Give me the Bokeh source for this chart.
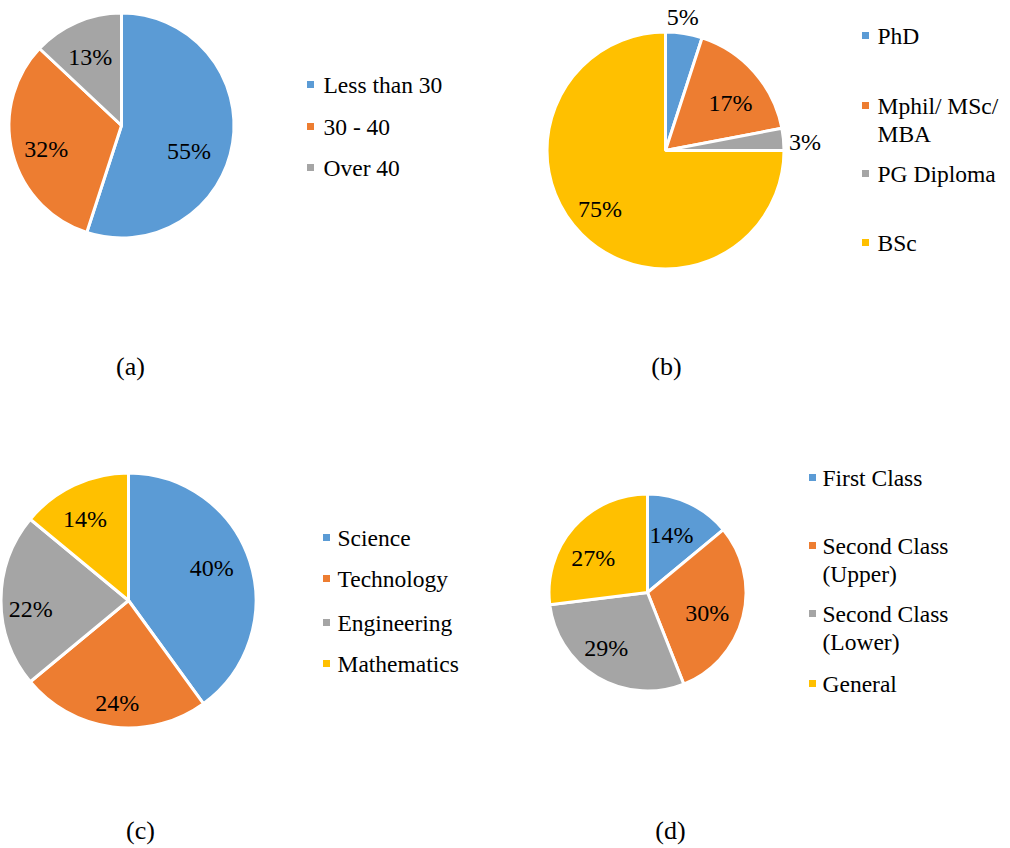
import numpy as np
from bokeh.plotting import figure
from bokeh.models import Range1d, ColumnDataSource
from bokeh.core.properties import value
from bokeh.embed import file_html
from bokeh.resources import INLINE

# ---------------- data ----------------
age_groups = ["Less than 30", "30 - 40", "Over 40"]
age_pct = [55, 32, 13]

qualifications = ["PhD", "Mphil/ MSc/\nMBA", "PG Diploma", "BSc"]
qual_pct = [5, 17, 3, 75]

fields = ["Science", "Technology", "Engineering", "Mathematics"]
field_pct = [40, 24, 22, 14]

degree_classes = ["First Class", "Second Class\n(Upper)", "Second Class\n(Lower)", "General"]
class_pct = [14, 30, 29, 27]

captions = ["(a)", "(b)", "(c)", "(d)"]

# ---------------- styles / layout ----------------
colors = ["#5B9BD5", "#ED7D31", "#A5A5A5", "#FFC000"]
W, H = 1010, 848
FONT = value("'Liberation Serif', 'Times New Roman', serif")

panels = [
    dict(vals=age_pct, cats=age_groups, cx=121, cy=125, r=112.5,
         lab=[(0.64, 11.5), (0.70, -2.6), (0.67, -1.1)],
         mx=310, tx=323, ly=[84, 126, 167], cap=(130, 366)),
    dict(vals=qual_pct, cats=qualifications, cx=665, cy=150, r=118.5,
         lab=[(1.14, -1.7), (0.68, 5.1), (1.18, 2.1), (0.74, 3.3)],
         mx=865, tx=877, ly=[35, 105, 173, 242], cap=(666, 366)),
    dict(vals=field_pct, cats=fields, cx=128, cy=600, r=127.5,
         lab=[(0.70, -3.1), (0.81, -1.0), (0.77, -4.7), (0.725, -2.8)],
         mx=326, tx=337, ly=[537, 578, 622, 663], cap=(140, 830)),
    dict(vals=class_pct, cats=degree_classes, cx=647, cy=592, r=98.5,
         lab=[(0.63, -2.4), (0.64, 4.3), (0.70, 6.1), (0.65, -9.2)],
         mx=812, tx=822, ly=[477, 545, 613, 683], cap=(670, 830)),
]
LINE_GAP = 28

p = figure(width=W, height=H, x_range=Range1d(0, W), y_range=Range1d(0, H),
           x_axis_type=None, y_axis_type=None, toolbar_location=None,
           output_backend="svg", min_border=0, outline_line_color=None)
p.grid.visible = False
p.background_fill_color = "white"
p.border_fill_color = "white"

def Y(v):
    return H - v

for k, pn in enumerate(panels):
    vals = np.array(pn["vals"], dtype=float)
    frac = vals / vals.sum()
    cum_end = np.cumsum(frac)
    cum_start = cum_end - frac
    n = len(vals)
    src = ColumnDataSource(dict(
        x=[pn["cx"]] * n, y=[Y(pn["cy"])] * n,
        start=list(np.pi / 2 - 2 * np.pi * cum_end),
        end=list(np.pi / 2 - 2 * np.pi * cum_start),
        color=colors[:n],
    ))
    p.wedge(x="x", y="y", radius=pn["r"], start_angle="start", end_angle="end",
            direction="anticlock", fill_color="color", line_color="white",
            line_width=3, source=src)

    # percentage labels
    lx, lyy, lt = [], [], []
    for i in range(n):
        f, dth = pn["lab"][i]
        ang = np.deg2rad((cum_start[i] + frac[i] / 2) * 360 + dth)  # clockwise from top
        d = f * pn["r"]
        lx.append(pn["cx"] + d * np.sin(ang))
        lyy.append(Y(pn["cy"]) + d * np.cos(ang))
        lt.append(f"{int(round(vals[i]))}%")
    p.text(x=lx, y=lyy, text=lt, text_font=FONT, text_font_size="24px",
           text_color="black", text_align="center", text_baseline="middle")

    # legend
    p.scatter(x=[pn["mx"]] * n, y=[Y(v) for v in pn["ly"]], marker="square",
              size=7, fill_color=colors[:n], line_color=None)
    tx, ty, tt = [], [], []
    for i, lab in enumerate(pn["cats"]):
        for j, line in enumerate(lab.split("\n")):
            tx.append(pn["tx"])
            ty.append(Y(pn["ly"][i] + j * LINE_GAP))
            tt.append(line)
    p.text(x=tx, y=ty, text=tt, text_font=FONT, text_font_size="23.5px",
           text_color="black", text_align="left", text_baseline="middle")

    # caption
    p.text(x=[pn["cap"][0]], y=[Y(pn["cap"][1])], text=[captions[k]], text_font=FONT,
           text_font_size="26px", text_color="black", text_align="center",
           text_baseline="middle")

open("out.html", "w").write(file_html(p, INLINE))
